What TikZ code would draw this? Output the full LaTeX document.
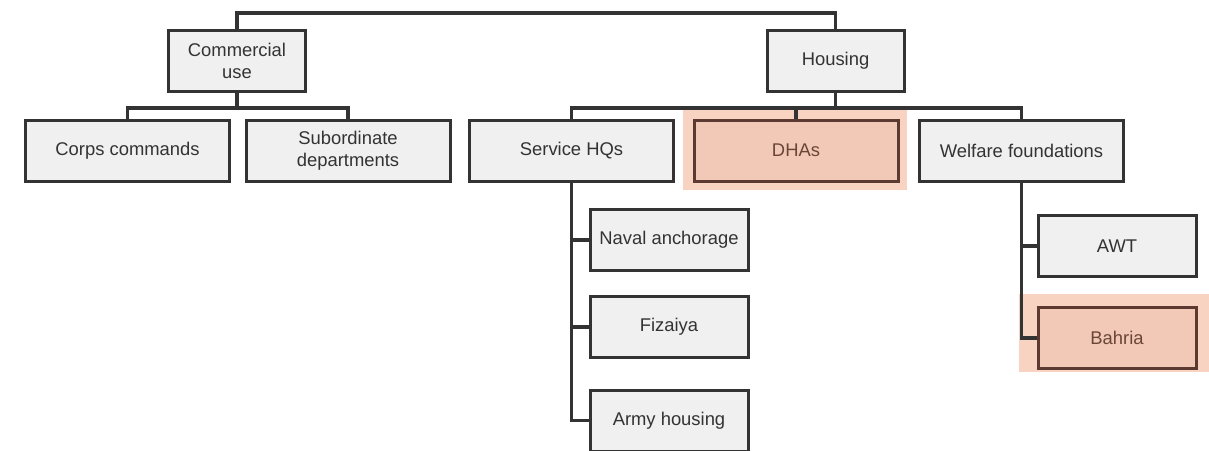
\documentclass[tikz,border=0pt]{standalone}
\usepackage{fontspec}
\setmainfont{Liberation Sans}
\usepackage{xcolor}
\usetikzlibrary{positioning}

\definecolor{boxfill}{HTML}{EFF0EF}
\definecolor{boxline}{HTML}{333333}
\definecolor{hlfill}{HTML}{F2C9B6}
\definecolor{hlline}{HTML}{5C3A31}
\definecolor{hlhalo}{HTML}{F9D3C2}
\definecolor{hltext}{HTML}{6B4538}

\begin{document}
\begin{tikzpicture}[x=0.5pt, y=-0.5pt, font=\fontsize{9.2}{11}\selectfont]
		\tikzstyle{unit} = [draw=boxline, line width=1.5pt, fill=boxfill, text=boxline, rectangle, minimum width=102pt, minimum height=30.5pt, align=center, inner sep=0pt]
		\tikzstyle{head} = [unit, minimum width=68.5pt]
		\tikzstyle{sub} = [unit, minimum width=79pt]
		\tikzstyle{marked} = [draw=hlline, fill=hlfill, text=hltext]
		\tikzstyle{halo} = [fill=hlhalo]
		\tikzstyle{link} = [draw=boxline, line width=1.75pt]
		
		\useasboundingbox (0,0) rectangle (1209,450);
		
		% highlighted areas
		\fill[halo] (683,110) rectangle (907,190);
		\fill[halo] (1019,294) rectangle (1209,372);
		
		\coordinate (topbar) at (0,13);
		\coordinate (cbus) at (0,108);
		
		\node[head]	at (237, 60.5)		(comm)	{Commercial\\use};
		\node[head]	at (835.5, 60.5)	(hous)	{Housing};
		
		\node[unit]	at (127.5, 150.5)	(corps)	{Corps commands};
		\node[unit]	at (348, 150.5)		(subord)	{Subordinate\\departments};
		\node[unit]	at (571.5, 150.5)	(shq)	{Service HQs};
		\node[unit, marked]	at (796, 150.5)	(dha)	{DHAs};
		\node[unit]	at (1021.5, 150.5)	(welf)	{Welfare foundations};
		
		\node[sub]	at (669, 240)		(naval)	{Naval anchorage};
		\node[sub]	at (669, 327)		(fiz)	{Fizaiya};
		\node[sub]	at (669, 420.5)		(army)	{Army housing};
		
		\node[sub]	at (1117, 246)		(awt)	{AWT};
		\node[sub, marked]	at (1117, 338)	(bahria)	{Bahria};
		
		\draw[link] (comm.north) -- (comm.north |- topbar) -| (hous.north);
		\draw[link] (comm.south) -- (comm.south |- cbus);
		\draw[link] (corps.north) -- (corps.north |- cbus) -| (subord.north);
		\draw[link] (hous.south) -- (hous.south |- cbus);
		\draw[link] (shq.north) -- (shq.north |- cbus) -| (welf.north);
		\draw[link] (dha.north) -- (dha.north |- cbus);
		
		\draw[link] (shq.south) |- (naval.west);
		\draw[link] (shq.south) |- (fiz.west);
		\draw[link] (shq.south) |- (army.west);
		\draw[link] (welf.south) |- (awt.west);
		\draw[link] (welf.south) |- (bahria.west);
	\end{tikzpicture}
\end{document}
